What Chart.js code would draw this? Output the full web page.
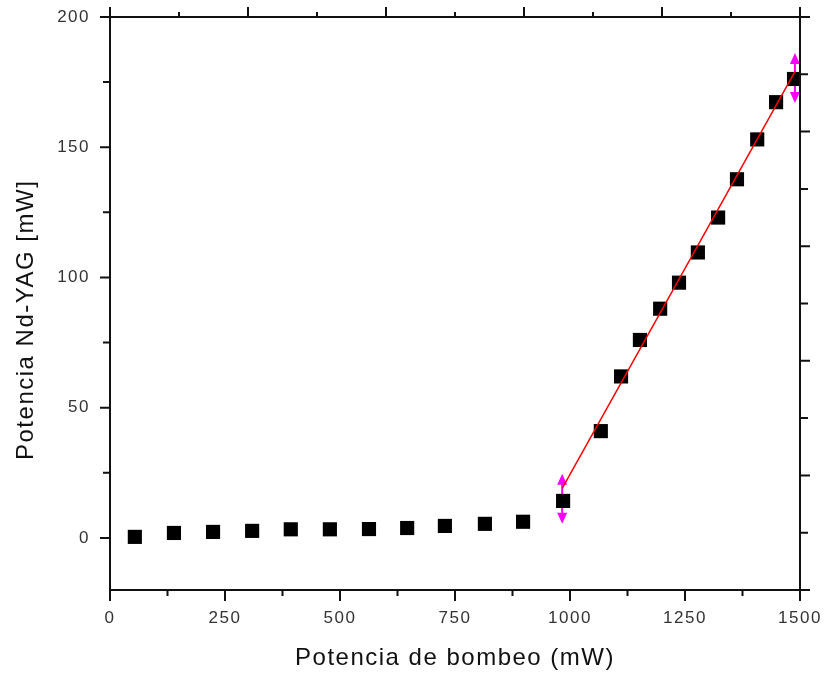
<!DOCTYPE html>
<html>
<head>
<meta charset="utf-8">
<title>Potencia Nd-YAG vs potencia de bombeo</title>
<script src="https://cdn.jsdelivr.net/npm/chart.js@4.4.1/dist/chart.umd.min.js"></script>
<style>
  body { margin: 0; background: #fff; }
  #wrap { width: 826px; height: 676px; }
</style>
</head>
<body>
<div id="wrap"><canvas id="chart" width="826" height="676"></canvas></div>
<script>
"use strict";

/* ─── Data ─────────────────────────────────────────────────── */

/* Pump power (mW) and measured Nd-YAG output (mW) */
const PUMP_POWER = [54, 139, 224, 309, 393, 478, 563, 646, 728, 815, 898, 985,
  1067, 1111, 1152, 1196, 1237, 1278, 1322, 1363, 1407, 1448, 1487];
const LASER_POWER = [0.4, 1.9, 2.3, 2.7, 3.3, 3.3, 3.4, 3.8, 4.6, 5.4, 6.2, 14.2,
  41, 62, 76, 88, 98, 109.6, 123, 137.7, 153, 167.3, 176.2];

/* Linear fit above threshold */
const FIT_X = [983, 1489];
const FIT_Y = [19, 179];

/* Vertical double arrows at the ends of the fit */
const ARROW_X = [983, 1489];
const ARROW_Y = [15, 176.6];
const ARROW_HALF = [9.6, 9.6];

/* Tick labels */
const X_TICKS = [0, 250, 500, 750, 1000, 1250, 1500];
const Y_TICKS = [0, 50, 100, 150, 200];

/* ─── Styling ──────────────────────────────────────────────── */

const FONT = "'Liberation Sans', Arial, sans-serif";
const MAJOR_LEN = 10;
const MINOR_LEN = 6;

/* ─── Plugins ──────────────────────────────────────────────── */

/* Draws the boxed frame with outward ticks on all four sides */
const framePlugin = {
  id: "frame",
  beforeDraw(chart) {
    chart.ctx.letterSpacing = "1.5px";
  },
  afterDraw(chart) {
    const ctx = chart.ctx;
    const a = chart.chartArea;
    const sx = chart.scales.x;
    const sy = chart.scales.y;
    const st = chart.scales.xTop;
    const sr = chart.scales.yRight;

    ctx.save();
    ctx.strokeStyle = "#111";
    ctx.lineWidth = 2;
    ctx.strokeRect(a.left, a.top, a.right - a.left, a.bottom - a.top);

    ctx.beginPath();
    /* bottom axis */
    for (let v = sx.min; v <= sx.max; v += 125) {
      const px = sx.getPixelForValue(v);
      const len = v % 250 === 0 ? MAJOR_LEN + 1 : MINOR_LEN;
      ctx.moveTo(px, a.bottom);
      ctx.lineTo(px, a.bottom + len);
    }
    /* left axis */
    for (let v = 0; v <= sy.max; v += 25) {
      const py = sy.getPixelForValue(v);
      const len = v % 50 === 0 ? MAJOR_LEN : MINOR_LEN + 1;
      ctx.moveTo(a.left, py);
      ctx.lineTo(a.left - len, py);
    }
    /* top axis */
    for (let v = st.min; v <= st.max; v += 0.5) {
      const px = st.getPixelForValue(v);
      const len = v % 1 === 0 ? MAJOR_LEN : MINOR_LEN - 1;
      ctx.moveTo(px, a.top);
      ctx.lineTo(px, a.top - len);
    }
    /* right axis */
    for (let v = sr.min; v <= sr.max; v += 1) {
      const py = sr.getPixelForValue(v);
      const len = v % 2 === 0 ? MAJOR_LEN : MINOR_LEN + 2;
      ctx.moveTo(a.right, py);
      ctx.lineTo(a.right + len, py);
    }
    ctx.stroke();
    ctx.restore();
  },
};

/* Draws magenta double-headed arrows behind the squares */
const arrowPlugin = {
  id: "arrows",
  beforeDatasetsDraw(chart) {
    const ctx = chart.ctx;
    const sx = chart.scales.x;
    const sy = chart.scales.y;
    ctx.save();
    ctx.strokeStyle = "#ff00ff";
    ctx.fillStyle = "#ff00ff";
    ctx.lineWidth = 2;
    ARROW_X.forEach(function (xv, i) {
      const px = sx.getPixelForValue(xv);
      const top = sy.getPixelForValue(ARROW_Y[i] + ARROW_HALF[i]);
      const bot = sy.getPixelForValue(ARROW_Y[i] - ARROW_HALF[i]);
      ctx.beginPath();
      ctx.moveTo(px, top + 4);
      ctx.lineTo(px, bot - 4);
      ctx.stroke();
      /* heads */
      ctx.beginPath();
      ctx.moveTo(px, top);
      ctx.lineTo(px - 5, top + 11);
      ctx.lineTo(px + 5, top + 11);
      ctx.closePath();
      ctx.moveTo(px, bot);
      ctx.lineTo(px - 5, bot - 11);
      ctx.lineTo(px + 5, bot - 11);
      ctx.closePath();
      ctx.fill();
    });
    ctx.restore();
  },
};

/* ─── Chart ────────────────────────────────────────────────── */

const points = PUMP_POWER.map(function (x, i) {
  return { x: x, y: LASER_POWER[i] };
});
const fitLine = FIT_X.map(function (x, i) {
  return { x: x, y: FIT_Y[i] };
});

/* Plain numeric labels, no thousands separator */
function plainLabel(v) {
  return String(v);
}

new Chart(document.getElementById("chart"), {
  type: "scatter",
  data: {
    datasets: [
      {
        type: "line",
        data: fitLine,
        borderColor: "#ff0000",
        borderWidth: 1.5,
        pointRadius: 0,
        fill: false,
        order: 0,
      },
      {
        data: points,
        pointStyle: "rect",
        pointRadius: 10,
        pointHoverRadius: 10,
        backgroundColor: "#000",
        borderColor: "#000",
        borderWidth: 0,
        order: 1,
      },
    ],
  },
  options: {
    responsive: false,
    animation: false,
    layout: { autoPadding: false, padding: { top: 17, right: 26, left: 0, bottom: 0 } },
    plugins: {
      legend: { display: false },
      tooltip: { enabled: false },
    },
    scales: {
      x: {
        type: "linear",
        position: "bottom",
        min: 0,
        max: 1500,
        grid: { display: false, drawTicks: false },
        border: { display: false },
        afterBuildTicks: function (scale) {
          scale.ticks = X_TICKS.map(function (v) { return { value: v }; });
        },
        afterFit: function (scale) {
          scale.height = 86;
          scale.paddingLeft = 0;
          scale.paddingRight = 0;
        },
        ticks: {
          color: "#333",
          padding: 18,
          maxRotation: 0,
          callback: plainLabel,
          font: { family: FONT, size: 17 },
        },
        title: {
          display: true,
          text: "Potencia de bombeo (mW)",
          color: "#111",
          font: { family: FONT, size: 24 },
          padding: { top: 0, bottom: 3 },
        },
      },
      y: {
        type: "linear",
        position: "left",
        min: -20,
        max: 200,
        grid: { display: false, drawTicks: false },
        border: { display: false },
        afterBuildTicks: function (scale) {
          scale.ticks = Y_TICKS.map(function (v) { return { value: v }; });
        },
        afterFit: function (scale) {
          scale.width = 110;
          scale.paddingTop = 0;
          scale.paddingBottom = 0;
        },
        ticks: {
          color: "#333",
          padding: 20,
          callback: plainLabel,
          font: { family: FONT, size: 17 },
        },
        title: {
          display: true,
          text: "Potencia Nd-YAG [mW]    ",
          color: "#111",
          font: { family: FONT, size: 24 },
          padding: { top: 12, bottom: 0 },
        },
      },
      xTop: {
        type: "linear",
        position: "top",
        display: false,
        min: 0,
        max: 5,
      },
      yRight: {
        type: "linear",
        position: "right",
        display: false,
        reverse: true,
        min: 0,
        max: 10,
      },
    },
  },
  plugins: [framePlugin, arrowPlugin],
});
</script>
</body>
</html>
